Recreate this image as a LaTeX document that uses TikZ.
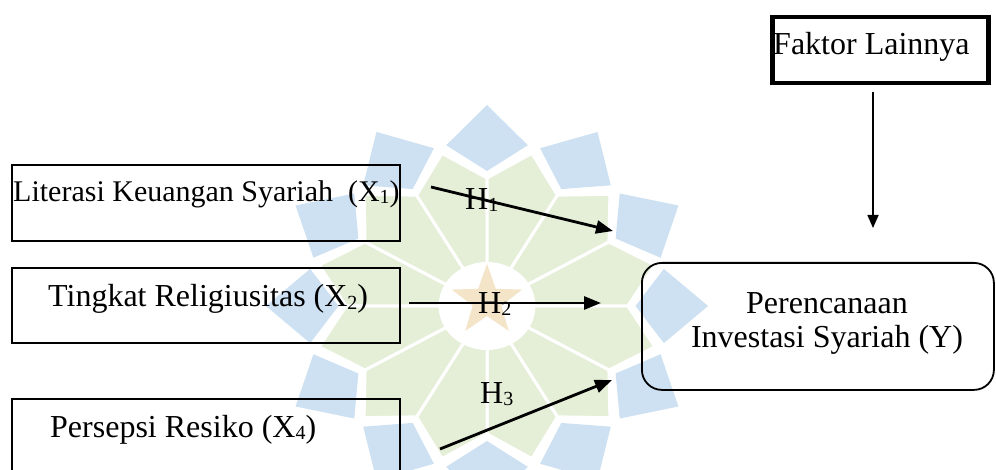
\documentclass[tikz,border=0pt]{standalone}
\usepackage{fontspec}
\setmainfont{Liberation Serif}
\usetikzlibrary{arrows.meta}
\definecolor{wmblue}{RGB}{206,225,242}
\definecolor{wmgreen}{RGB}{229,239,216}
\definecolor{wmstar}{RGB}{244,228,200}
% small index placed just below the baseline
\newcommand\idx[1]{\raisebox{-2pt}{\fontsize{20}{24}\selectfont #1}}
\begin{document}
\begin{tikzpicture}[x=1pt,y=-1pt,
  varbox/.style={draw=black,line width=1.8pt,inner sep=0pt,anchor=north west},
  lbl/.style={inner sep=0pt,anchor=base west,font=\fontsize{32}{38}\selectfont},
  ctr/.style={inner sep=0pt,anchor=base,font=\fontsize{32}{38}\selectfont},
  harrow/.style={line width=2.8pt,-{Triangle[length=17pt,width=13pt]}},
  farrow/.style={line width=1.6pt,-{Triangle[length=13pt,width=11pt]}},
  kite/.style={fill=wmblue},
  petal/.style={fill=wmgreen,draw=white,line width=3pt,line join=round}]
\clip (0,0) rectangle (996,470);

% faint emblem behind the diagram
\begin{scope}[shift={(487,306)},xscale=1.1]
  \foreach \a in {15,45,...,345}
    \path[petal] (\a:158) -- (\a+15:128) -- (0,0) -- (\a-15:128) -- cycle;
  \path[fill=white] (0,0) circle[radius=44];
  \foreach \a in {0,30,...,330}
    \path[kite] (\a:201) -- (\a+13:165) -- (\a:135) -- (\a-13:165) -- cycle;
\end{scope}
\begin{scope}[shift={(487,301)}]
  \path[fill=wmstar] (270:37) -- (306:15) -- (342:37) -- (18:15) -- (54:37)
    -- (90:15) -- (126:37) -- (162:15) -- (198:37) -- (234:15) -- cycle;
\end{scope}

% independent variables
\node[varbox,minimum width=388pt,minimum height=76pt] (x1) at (11,164) {};
\node[lbl,font=\fontsize{30}{36}\selectfont] (x1t) at (13,202)
  {Literasi Keuangan Syariah\ \ (X\idx{1})};
\node[varbox,minimum width=388pt,minimum height=75pt] (x2) at (11,267) {};
\node[lbl] (x2t) at (48,307) {Tingkat Religiusitas (X\idx{2})};
\node[varbox,minimum width=388pt,minimum height=110pt] (x4) at (11,398) {};
\node[lbl] (x4t) at (50,437) {Persepsi Resiko (X\idx{4})};

% other factors
\node[varbox,line width=4.5pt,minimum width=216pt,minimum height=66pt] (fk) at (770,15) {};
\node[lbl] (fkt) at (773,55) {Faktor Lainnya};

% dependent variable
\node[varbox,rounded corners=20pt,minimum width=352pt,minimum height=127pt] (y) at (641,262) {};
\node[ctr] (yt1) at (827,313) {Perencanaan};
\node[ctr] (yt2) at (827,348) {Investasi Syariah (Y)};

% hypothesis paths
\coordinate (h1a) at (431,187);
\coordinate (h1b) at (613,231);
\coordinate (h2a) at (409,303);
\coordinate (h2b) at (601,303);
\coordinate (h3a) at (440,449);
\coordinate (h3b) at (612,380);
\coordinate (fka) at (873,92);
\coordinate (fkb) at (873,228);
\node[lbl] (h1) at (465,210) {H\idx{1}};
\node[lbl] (h2) at (478,313) {H\idx{2}};
\node[lbl] (h3) at (480,403) {H\idx{3}};
\draw[harrow] (h1a) -- (h1b);
\draw[harrow] (h2a) -- (h2b);
\draw[harrow] (h3a) -- (h3b);
\draw[farrow] (fka) -- (fkb);
\end{tikzpicture}
\end{document}
